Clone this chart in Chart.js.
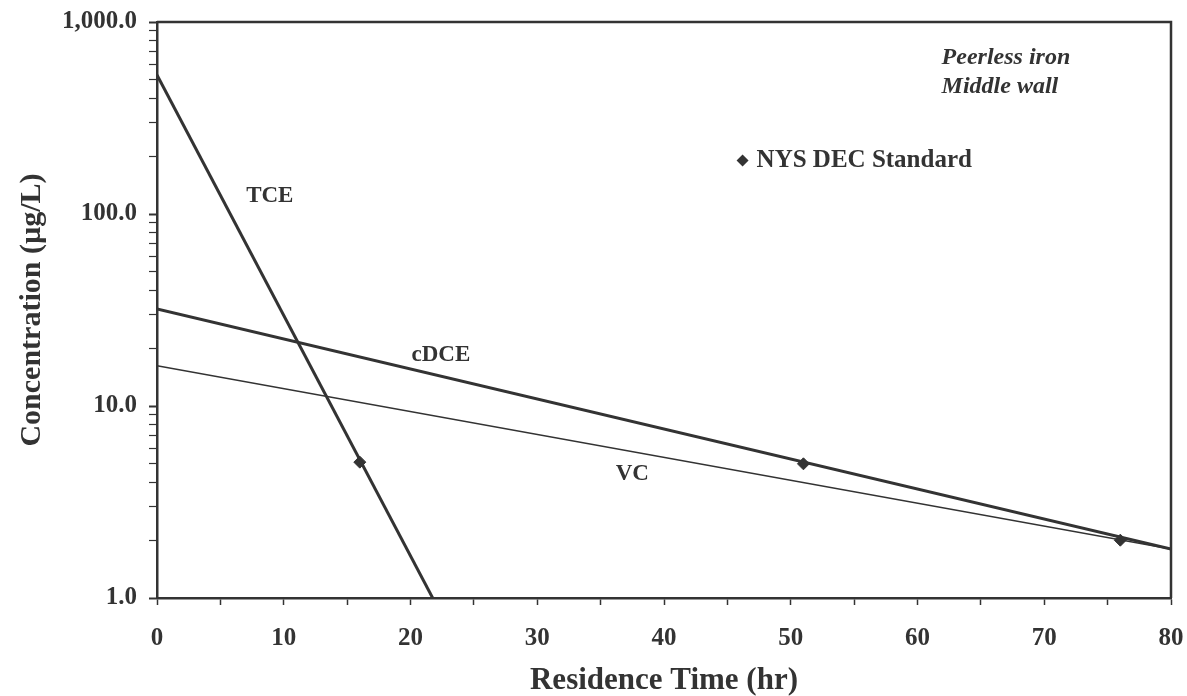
<!DOCTYPE html>
<html>
<head>
<meta charset="utf-8">
<script src="https://cdn.jsdelivr.net/npm/chart.js@4.4.0/dist/chart.umd.min.js"></script>
<style>
  html, body { margin: 0; padding: 0; background: #fff; }
  #wrap { width: 1187px; height: 696px; }
</style>
</head>
<body>
<div id="wrap"><canvas id="myChart" width="1187" height="696"></canvas></div>
<script>
// fitted lines (residence time hr, concentration ug/L)
var tceX = [0, 21.75];
var tceY = [530, 1.0];
var cdceX = [0, 80];
var cdceY = [32, 1.8];
var vcX = [0, 80];
var vcY = [16.2, 1.8];

// NYS DEC standard points
var stdX = [16, 51, 76];
var stdY = [5.1, 5.0, 2.0];

var yMajor = [1, 10, 100, 1000];
var xTickStep = 5;

var ink = '#333333';
var serif = '"Liberation Serif", "Times New Roman", serif';

function pts(xs, ys) {
    var out = [];
    for (var i = 0; i < xs.length; i++) out.push({ x: xs[i], y: ys[i] });
    return out;
}

// box, text notes and legend entry
var notesPlugin = {
    id: 'notes',
    afterDraw: function (chart) {
        var ctx = chart.ctx;
        var a = chart.chartArea;
        var xs = chart.scales.x, ys = chart.scales.y;
        ctx.save();
        ctx.strokeStyle = ink;
        ctx.lineWidth = 2.5;
        ctx.beginPath();
        ctx.moveTo(a.left, a.top);
        ctx.lineTo(a.right, a.top);
        ctx.lineTo(a.right, a.bottom);
        ctx.stroke();

        ctx.fillStyle = ink;
        ctx.textBaseline = 'middle';
        ctx.textAlign = 'center';
        ctx.font = 'bold 23px ' + serif;
        ctx.fillText('TCE', xs.getPixelForValue(8.9), ys.getPixelForValue(124));
        ctx.fillText('cDCE', xs.getPixelForValue(22.4), ys.getPixelForValue(18.4));
        ctx.fillText('VC', xs.getPixelForValue(37.5), ys.getPixelForValue(4.42));

        // legend entry
        var lx = xs.getPixelForValue(46.2), ly = ys.getPixelForValue(190);
        ctx.beginPath();
        ctx.moveTo(lx, ly - 6);
        ctx.lineTo(lx + 6, ly);
        ctx.lineTo(lx, ly + 6);
        ctx.lineTo(lx - 6, ly);
        ctx.closePath();
        ctx.fill();
        ctx.textAlign = 'left';
        ctx.font = 'bold 25px ' + serif;
        ctx.fillText('NYS DEC Standard', lx + 14, ly);

        ctx.font = 'italic bold 24px ' + serif;
        ctx.fillText('Peerless iron', xs.getPixelForValue(61.9), ys.getPixelForValue(650));
        ctx.fillText('Middle wall', xs.getPixelForValue(61.9), ys.getPixelForValue(460));
        ctx.restore();
    }
};

var ctx = document.getElementById('myChart').getContext('2d');
var myChart = new Chart(ctx, {
    type: 'scatter',
    data: {
        datasets: [
            { label: 'TCE', data: pts(tceX, tceY), showLine: true, borderColor: ink, borderWidth: 3, pointRadius: 0 },
            { label: 'cDCE', data: pts(cdceX, cdceY), showLine: true, borderColor: ink, borderWidth: 3, pointRadius: 0 },
            { label: 'VC', data: pts(vcX, vcY), showLine: true, borderColor: ink, borderWidth: 1.5, pointRadius: 0 },
            { label: 'NYS DEC Standard', data: pts(stdX, stdY), showLine: false, pointStyle: 'rectRot',
              pointRadius: 6, backgroundColor: ink, borderColor: ink }
        ]
    },
    options: {
        responsive: false,
        animation: false,
        layout: { padding: { top: 22, right: 16, left: 0, bottom: 0 } },
        plugins: { legend: { display: false }, tooltip: { enabled: false } },
        scales: {
            x: {
                type: 'linear', min: 0, max: 80,
                border: { display: true, color: ink, width: 2.5 },
                grid: { drawOnChartArea: false, color: ink, tickLength: 7, tickWidth: 1.5 },
                ticks: {
                    stepSize: xTickStep, color: ink, padding: 19, maxRotation: 0,
                    font: { family: serif, size: 25, weight: 'bold' },
                    callback: function (v) { return v % 10 === 0 ? String(v) : ''; }
                },
                title: {
                    display: true, text: 'Residence Time (hr)', color: ink,
                    font: { family: serif, size: 31, weight: 'bold', lineHeight: 1.0 },
                    padding: { top: 0, bottom: 0 }
                },
                afterFit: function (s) { s.height = 98; s.paddingLeft = 0; s.paddingRight = 0; }
            },
            y: {
                type: 'logarithmic', min: 1, max: 1000,
                border: { display: true, color: ink, width: 2.5 },
                grid: {
                    drawOnChartArea: false, color: ink, tickLength: 8,
                    tickWidth: function (c) { return yMajor.indexOf(c.tick.value) >= 0 ? 2 : 1.2; }
                },
                afterBuildTicks: function (s) {
                    var t = [];
                    for (var d = 1; d < 1000; d *= 10) {
                        for (var m = 1; m < 10; m++) t.push({ value: d * m });
                    }
                    t.push({ value: 1000 });
                    s.ticks = t;
                },
                ticks: {
                    color: ink, padding: 12, autoSkip: false,
                    font: { family: serif, size: 25, weight: 'bold' },
                    callback: function (v) {
                        if (yMajor.indexOf(v) < 0) return '';
                        return v.toLocaleString('en-US', { minimumFractionDigits: 1, maximumFractionDigits: 1 });
                    }
                },
                title: {
                    display: true, text: 'Concentration (µg/L)', color: ink,
                    font: { family: serif, size: 30, weight: 'bold' },
                    padding: { top: 14, bottom: 0 }
                },
                afterFit: function (s) { s.width = 157; s.paddingTop = 0; s.paddingBottom = 0; }
            }
        }
    },
    plugins: [notesPlugin]
});
</script>
</body>
</html>
